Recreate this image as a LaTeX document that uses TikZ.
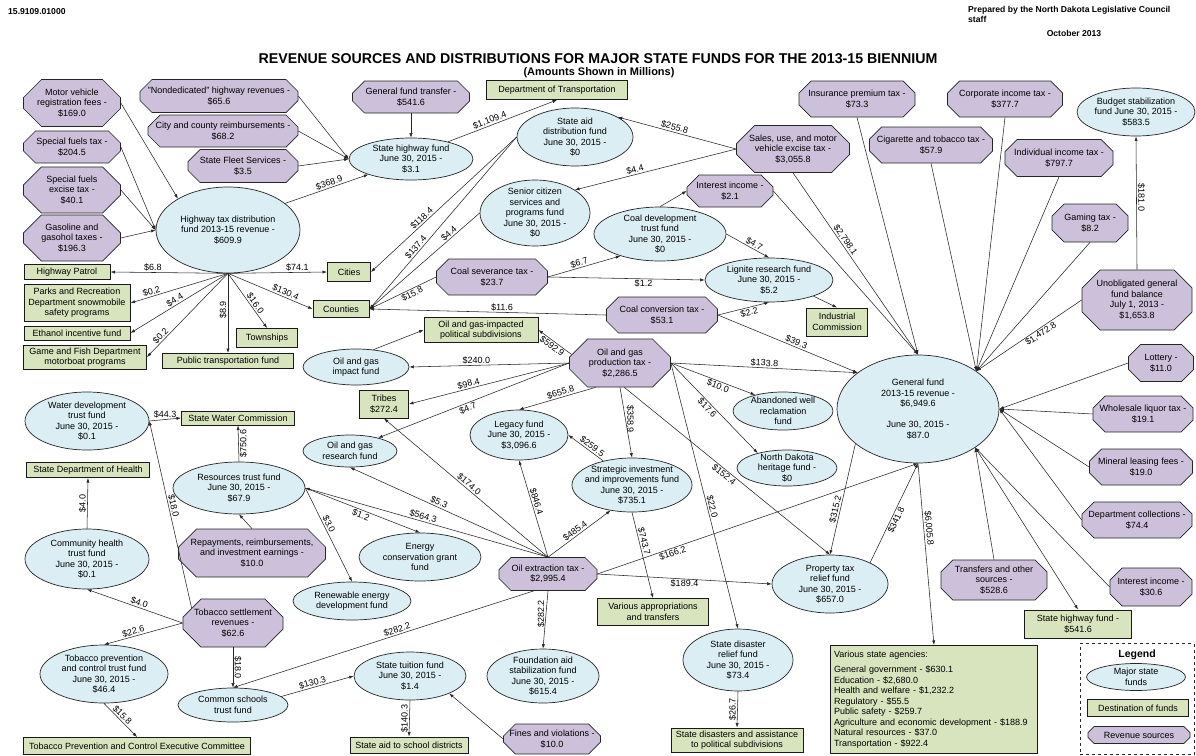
\documentclass[tikz,border=0pt]{standalone}
\usepackage{fontspec}
\setmainfont{Liberation Sans}
\usetikzlibrary{shapes.geometric,shapes.misc,arrows.meta}
\definecolor{srcP}{HTML}{CCC0DA}
\definecolor{fundB}{HTML}{DAEEF3}
\definecolor{destG}{HTML}{D7E4BD}
\definecolor{edgeC}{HTML}{262626}
\newcommand{\nf}{\fontsize{9}{10.5}\selectfont}
\begin{document}
\begin{tikzpicture}[x=1pt,y=-1pt, font=\nf,
 sz/.style 2 args={minimum width=#1pt, minimum height=#2pt},
 fund/.style={ellipse, draw=black!85, line width=0.7pt, fill=fundB, align=center, inner xsep=-6pt, inner ysep=-4pt},
 src/.style={chamfered rectangle, chamfered rectangle xsep=6pt, chamfered rectangle ysep=6pt, draw=black!85, line width=0.7pt, fill=srcP, align=center, inner sep=0pt},
 tall/.style={chamfered rectangle xsep=9pt, chamfered rectangle ysep=9pt},
 dest/.style={rectangle, draw=black!90, line width=1pt, fill=destG, align=center, inner sep=1pt},
 conn/.style={draw=edgeC, line width=0.55pt, -{Latex[length=4.5pt,width=3.2pt]}},
 lbl/.style={inner sep=1pt, font=\nf}]
\fill[white] (0,0) rectangle (1196,755);
\useasboundingbox (0,0) rectangle (1196,755);

% header
\node[anchor=west, font=\bfseries\fontsize{8.6}{10}\selectfont, inner sep=0] (hid) at (8,12) {15.9109.01000};
\node[anchor=north west, align=left, font=\bfseries\fontsize{8.6}{10}\selectfont, inner sep=0] (hprep) at (968,6) {Prepared by the North Dakota Legislative Council\\staff};
\node[font=\bfseries\fontsize{8.6}{10}\selectfont, inner sep=0] (hdate) at (1074,33) {October 2013};
\node[font=\bfseries\fontsize{14.2}{16}\selectfont, inner sep=0] (title) at (598,59) {REVENUE SOURCES AND DISTRIBUTIONS FOR MAJOR STATE FUNDS FOR THE 2013-15 BIENNIUM};
\node[font=\bfseries\fontsize{11}{12}\selectfont, inner sep=0] (sub) at (599,73) {(Amounts Shown in Millions)};

% revenue sources
\node[src, tall, sz={97}{47}] (m1) at (72,103) {Motor vehicle\\registration fees -\\\$169.0};
\node[src, sz={97}{32}] (m2) at (72,147) {Special fuels tax -\\\$204.5};
\node[src, tall, sz={97}{45}] (m3) at (72,190) {Special fuels\\excise tax -\\\$40.1};
\node[src, tall, sz={97}{44}] (m4) at (72,238) {Gasoline and\\gasohol taxes -\\\$196.3};
\node[src, sz={158}{33}] (nd) at (219,96) {"Nondedicated" highway revenues -\\\$65.6};
\node[src, sz={150}{32}] (cc) at (223,131) {City and county reimbursements -\\\$68.2};
\node[src, sz={110}{33}] (sf) at (243,166) {State Fleet Services -\\\$3.5};
\node[src, sz={117}{32}] (gft) at (411,97) {General fund transfer -\\\$541.6};
\node[src, tall, sz={113}{47}] (sut) at (793,149) {Sales, use, and motor\\vehicle excise tax -\\\$3,055.8};
\node[src, sz={116}{36}] (ipt) at (857,99) {Insurance premium tax -\\\$73.3};
\node[src, sz={86}{32}] (ii1) at (730,191) {Interest income -\\\$2.1};
\node[src, sz={123}{36}] (cig) at (931,145) {Cigarette and tobacco tax -\\\$57.9};
\node[src, sz={115}{36}] (cit) at (1005,99) {Corporate income tax -\\\$377.7};
\node[src, sz={108}{37}] (iit) at (1059,158) {Individual income tax -\\\$797.7};
\node[src, sz={76}{38}] (gam) at (1090,223) {Gaming tax -\\\$8.2};
\node[src, sz={111}{36}] (cst) at (492,277) {Coal severance tax -\\\$23.7};
\node[src, sz={111}{36}] (cct) at (662,315) {Coal conversion tax -\\\$53.1};
\node[src, tall, sz={101}{48}] (ogp) at (620,363) {Oil and gas\\production tax -\\\$2,286.5};
\node[src, tall, sz={110}{60}] (ugf) at (1137,300) {Unobligated general\\fund balance\\July 1, 2013 -\\\$1,653.8};
\node[src, sz={65}{37}] (lot) at (1161,363) {Lottery -\\\$11.0};
\node[src, sz={100}{36}] (wlt) at (1143,414) {Wholesale liquor tax -\\\$19.1};
\node[src, sz={103}{36}] (mlf) at (1141,467) {Mineral leasing fees -\\\$19.0};
\node[src, sz={110}{36}] (dco) at (1137,520) {Department collections -\\\$74.4};
\node[src, tall, sz={147}{48}] (rep) at (252,553) {Repayments, reimbursements,\\and investment earnings -\\\$10.0};
\node[src, tall, sz={100}{48}] (tsr) at (233,623) {Tobacco settlement\\revenues -\\\$62.6};
\node[src, sz={98}{33}] (oet) at (548,574) {Oil extraction tax -\\\$2,995.4};
\node[src, sz={95}{30}] (fav) at (552,739) {Fines and violations -\\\$10.0};
\node[src, sz={106}{40}] (tos) at (994,580) {Transfers and other\\sources -\\\$528.6};
\node[src, sz={82}{38}] (ii2) at (1151,587) {Interest income -\\\$30.6};

% funds
\node[fund, sz={144}{86}] (htd) at (228,230) {Highway tax distribution\\fund 2013-15 revenue -\\\$609.9};
\node[fund, sz={124}{42}] (shf) at (411,159) {State highway fund\\June 30, 2015 -\\\$3.1};
\node[fund, sz={116}{58}] (sad) at (575,137) {State aid\\distribution fund\\June 30, 2015 -\\\$0};
\node[fund, sz={110}{66}] (scs) at (535,213) {Senior citizen\\services and\\programs fund\\June 30, 2015 -\\\$0};
\node[fund, sz={132}{54}] (cdt) at (660,234) {Coal development\\trust fund\\June 30, 2015 -\\\$0};
\node[fund, sz={128}{44}] (lrf) at (769,280) {Lignite research fund\\June 30, 2015 -\\\$5.2};
\node[fund, sz={118}{48}] (bsf) at (1136,112) {Budget stabilization\\fund June 30, 2015 -\\\$583.5};
\node[fund, sz={162}{108}] (gf) at (918,409) {General fund\\2013-15 revenue -\\\$6,949.6\\[10.5pt]June 30, 2015 -\\\$87.0};
\node[fund, sz={124}{58}] (wdt) at (87,421) {Water development\\trust fund\\June 30, 2015 -\\\$0.1};
\node[fund, sz={132}{52}] (rtf) at (239,488) {Resources trust fund\\June 30, 2015 -\\\$67.9};
\node[fund, sz={106}{36}] (ogi) at (356,367) {Oil and gas\\impact fund};
\node[fund, sz={94}{32}] (ogr) at (350,451) {Oil and gas\\research fund};
\node[fund, sz={98}{50}] (leg) at (519,435) {Legacy fund\\June 30, 2015 -\\\$3,096.6};
\node[fund, sz={100}{38}] (awr) at (783,411) {Abandoned well\\reclamation\\fund};
\node[fund, sz={100}{36}] (ndh) at (787,468) {North Dakota\\heritage fund -\\\$0};
\node[fund, sz={120}{54}] (sii) at (632,485) {Strategic investment\\and improvements fund\\June 30, 2015 -\\\$735.1};
\node[fund, sz={124}{60}] (chd) at (87,559) {Community health\\trust fund\\June 30, 2015 -\\\$0.1};
\node[fund, sz={128}{58}] (tpc) at (104,674) {Tobacco prevention\\and control trust fund\\June 30, 2015 -\\\$46.4};
\node[fund, sz={110}{34}] (cs2) at (233,705) {Common schools\\trust fund};
\node[fund, sz={122}{48}] (ecg) at (420,557) {Energy\\conservation grant\\fund};
\node[fund, sz={118}{38}] (ren) at (352,601) {Renewable energy\\development fund};
\node[fund, sz={112}{54}] (fas) at (543,676) {Foundation aid\\stabilization fund\\June 30, 2015 -\\\$615.4};
\node[fund, sz={112}{48}] (stf) at (410,676) {State tuition fund\\June 30, 2015 -\\\$1.4};
\node[fund, sz={116}{58}] (ptr) at (830,584) {Property tax\\relief fund\\June 30, 2015 -\\\$657.0};
\node[fund, sz={110}{62}] (sdr) at (738,660) {State disaster\\relief fund\\June 30, 2015 -\\\$73.4};

% destinations
\node[dest, sz={141}{19}] (dtr) at (557,90) {Department of Transportation};
\node[dest, sz={86}{15}] (hp) at (67,272) {Highway Patrol};
\node[dest, sz={106}{37}] (prd) at (77,303) {Parks and Recreation\\Department snowmobile\\safety programs};
\node[dest, sz={106}{14}] (eif) at (77,333) {Ethanol incentive fund};
\node[dest, sz={123}{24}] (gfd) at (85,357) {Game and Fish Department\\motorboat programs};
\node[dest, sz={131}{15}] (ptf) at (228,361) {Public transportation fund};
\node[dest, sz={61}{19}] (twp) at (267,338) {Townships};
\node[dest, sz={43}{19}] (cities) at (349,272) {Cities};
\node[dest, sz={56}{17}] (cou) at (341,309) {Counties};
\node[dest, sz={114}{25}] (ogps) at (481,330) {Oil and gas-impacted\\political subdivisions};
\node[dest, sz={49}{28}] (tri) at (384,404) {Tribes\\\$272.4};
\node[dest, sz={61}{28}] (ic) at (837,322) {Industrial\\Commission};
\node[dest, sz={113}{14}] (swc) at (238,418) {State Water Commission};
\node[dest, sz={123}{15}] (sdh) at (88,470) {State Department of Health};
\node[dest, sz={227}{17}] (tpce) at (137,746) {Tobacco Prevention and Control Executive Committee};
\node[dest, sz={118}{16}] (sasd) at (409,745) {State aid to school districts};
\node[dest, sz={111}{27}] (vat) at (653,612) {Various appropriations\\and transfers};
\node[dest, sz={132}{24}] (sda) at (737,740) {State disasters and assistance\\to political subdivisions};
\node[dest, sz={107}{28}] (shf2) at (1078,624) {State highway fund -\\\$541.6};
\node[dest, sz={207}{108}, anchor=north west, align=left, text width=200pt] (vsa) at (830,645) {Various state agencies:\\[5pt]General government - \$630.1\\Education - \$2,680.0\\Health and welfare - \$1,232.2\\Regulatory - \$55.5\\Public safety - \$259.7\\Agriculture and economic development - \$188.9\\Natural resources - \$37.0\\Transportation - \$922.4};

% legend
\node[draw=black!85, dashed, line width=0.9pt, sz={114}{111}] (legbox) at (1137,699) {};
\node[font=\bfseries\fontsize{10.5}{12}\selectfont, inner sep=0] (legt) at (1137,655) {Legend};
\node[fund, sz={99}{27}] (lgf) at (1136,677) {Major state\\funds};
\node[dest, sz={101}{17}] (lgd) at (1138,708) {Destination of funds};
\node[src, sz={102}{17}, chamfered rectangle xsep=4pt, chamfered rectangle ysep=3pt] (lgs) at (1139,735) {Revenue sources};

% ---- connectors: highway
\draw[conn] (m1.east) -- (htd.148);
\draw[conn] (m2.east) -- (htd.west);
\draw[conn] (m3.east) -- (htd.west);
\draw[conn] (m4.east) -- (htd.west);
\draw[conn] (nd.east) -- (shf.west);
\draw[conn] (cc.east) -- (shf.west);
\draw[conn] (sf.east) -- (shf.west);
\draw[conn] (gft.south) -- (shf.north);
\draw[conn] (htd.25) -- node[lbl,sloped,above,pos=0.55]{\$368.9} (shf.200);
\draw[conn] (shf.25) -- node[lbl,sloped,above,pos=0.4]{\$1,109.4} (dtr.south);
\draw[conn] (htd.south) -- node[lbl,above,pos=0.64]{\$6.8} (hp.east);
\draw[conn] (htd.south) -- node[lbl,above,pos=0.7]{\$74.1} (cities.west);
\draw[conn] (htd.south) -- node[lbl,sloped,above,pos=0.77]{\$0.2} (prd.east);
\draw[conn] (htd.south) -- node[lbl,sloped,above,pos=0.52]{\$4.4} (eif.east);
\draw[conn] (htd.south) -- node[lbl,sloped,above,pos=0.79]{\$0.2} (gfd.east);
\draw[conn] (htd.south) -- node[lbl,pos=0.46,rotate=90,anchor=south]{\$8.9} (ptf.north);
\draw[conn] (htd.south) -- node[lbl,sloped,above,pos=0.6]{\$16.0} (twp.north);
\draw[conn] (htd.south) -- node[lbl,sloped,above,pos=0.66]{\$130.4} (cou.west);

% cities / counties / coal
\draw[conn] (sad.west) -- node[lbl,sloped,above,pos=0.63]{\$118.4} (cities.east);
\draw[conn] (sad.west) -- node[lbl,sloped,above,pos=0.66]{\$137.4} (cou.east);
\draw[conn] (scs.west) -- node[lbl,sloped,above,pos=0.25]{\$4.4} (cou.east);
\draw[conn] (cst.west) -- node[lbl,sloped,below,pos=0.39]{\$15.8} (cou.east);
\draw[conn] (cct.west) -- node[lbl,sloped,above,pos=0.44]{\$11.6} (cou.east);
\draw[conn] (cst.east) -- node[lbl,sloped,above,pos=0.45]{\$6.7} (cdt.209);
\draw[conn] (cst.east) -- node[lbl,below,pos=0.61]{\$1.2} (lrf.west);
\draw[conn] (cdt.east) -- node[lbl,sloped,above,pos=0.6]{\$4.7} (lrf.north);
\draw[conn] (cdt.north) -- (ii1.west);
\draw[conn] (ii1.east) -- (gf.north);
\draw[conn] (lrf.-20) -- (ic.north);
\draw[conn] (cct.east) -- node[lbl,sloped,below,pos=0.59]{\$2.2} (lrf.south);
\draw[conn] (cct.east) -- node[lbl,sloped,above,pos=0.55]{\$39.3} (gf.149);

% sales tax
\draw[conn] (sut.west) -- node[lbl,sloped,above,pos=0.53]{\$255.8} (sad.25);
\draw[conn] (sut.west) -- node[lbl,sloped,above,pos=0.62]{\$4.4} (scs.30);

% oil and gas production tax
\draw[conn] (ogp.170) -- node[lbl,sloped,below,pos=0.5]{\$592.9} (ogps.east);
\draw[conn] (ogp.west) -- node[lbl,above,pos=0.58]{\$240.0} (ogi.east);
\draw[conn] (ogp.west) -- node[lbl,sloped,above,pos=0.62]{\$98.4} (tri.east);
\draw[conn] (ogp.west) -- node[lbl,sloped,below,pos=0.54]{\$4.7} (ogr.25);
\draw[conn] (ogp.225) -- node[lbl,sloped,above,pos=0.44]{\$655.8} (leg.north);
\draw[conn] (ogp.south) -- node[lbl,pos=0.45,rotate=-90,anchor=south]{\$358.9} (sii.north);
\draw[conn] (ogp.east) -- node[lbl,sloped,below,pos=0.58]{\$10.0} (awr.150);
\draw[conn] (ogp.east) -- node[lbl,sloped,below,pos=0.46]{\$17.6} (ndh.153);
\draw[conn] (ogp.east) -- node[lbl,sloped,above,pos=0.5]{\$133.8} (gf.149);
\draw[conn] (ogp.-80) -- node[lbl,sloped,below,pos=0.5]{\$152.4} (ptr.north);
\draw[conn] (ogp.east) -- node[lbl,sloped,above,pos=0.545]{\$22.0} (sdr.north);
\draw[conn] (ogi.45) -- (ogps.west);

% strategic
\draw[conn] (sii.140) -- node[lbl,sloped,above,pos=0.4]{\$259.5} (leg.east);
\draw[conn] (sii.south) -- node[lbl,sloped,above,pos=0.35]{\$743.7} (vat.north);

% oil extraction tax
\draw[conn] (oet.north) -- node[lbl,sloped,above,pos=0.56]{\$846.4} (leg.south);
\draw[conn] (oet.north) -- node[lbl,sloped,above,pos=0.5]{\$174.0} (tri.south);
\draw[conn] (oet.north) -- node[lbl,sloped,above,pos=0.56]{\$5.3} (ogr.south);
\draw[conn] (oet.north) -- node[lbl,sloped,above,pos=0.52]{\$564.3} (rtf.east);
\draw[conn] (oet.north) -- node[lbl,sloped,above,pos=0.48]{\$485.4} (sii.230);
\draw[conn] (oet.south) -- node[lbl,pos=0.4,rotate=90,anchor=south]{\$282.2} (fas.north);
\draw[conn] (oet.230) -- node[lbl,sloped,above,pos=0.45]{\$282.2} (cs2.north);
\draw[conn] (oet.east) -- node[lbl,below,pos=0.5]{\$189.4} (ptr.west);
\draw[conn] (oet.east) -- node[lbl,sloped,below,pos=0.23]{\$166.2} (gf.south);

% general fund
\draw[conn] (gf.209) -- node[lbl,sloped,above,pos=0.6]{\$315.2} (ptr.north);
\draw[conn] (ptr.28) -- node[lbl,sloped,below,pos=0.45]{\$341.8} (gf.south);
\draw[conn] (gf.south) -- node[lbl,sloped,above,pos=0.36]{\$6,005.8} (vsa.north);
\draw[conn] (sut.south) -- node[lbl,sloped,above,pos=0.385]{\$2,798.1} (gf.north);
\draw[conn] (ipt.south) -- (gf.north);
\draw[conn] (cig.south) -- (gf.33);
\draw[conn] (cit.south) -- (gf.33);
\draw[conn] (iit.south) -- (gf.33);
\draw[conn] (gam.south) -- (gf.33);
\draw[conn] (ugf.west) -- node[lbl,sloped,below,pos=0.415]{\$1,472.8} (gf.33);
\draw[conn] (ugf.north) -- node[lbl,pos=0.54,rotate=-90,anchor=south]{\$181.0} (bsf.south);
\draw[conn] (lot.west) -- (gf.east);
\draw[conn] (wlt.west) -- (gf.east);
\draw[conn] (mlf.west) -- (gf.east);
\draw[conn] (dco.west) -- (gf.east);
\draw[conn] (tos.north) -- (gf.-34);
\draw[conn] (gf.-34) -- (shf2.north);
\draw[conn] (ii2.west) -- (gf.-34);

% water, resources, tobacco, schools
\draw[conn] (wdt.east) -- node[lbl,above,pos=0.5]{\$44.3} (swc.west);
\draw[conn] (tsr.160) -- node[lbl,sloped,above,pos=0.54]{\$18.0} (wdt.east);
\draw[conn] (rtf.north) -- node[lbl,pos=0.5,rotate=90,anchor=north]{\$750.6} (swc.south);
\draw[conn] (rtf.east) -- node[lbl,sloped,below,pos=0.5]{\$1.2} (ecg.north);
\draw[conn] (rtf.east) -- node[lbl,sloped,above,pos=0.41]{\$3.0} (ren.north);
\draw[conn] (rep.north) -- (rtf.south);
\draw[conn] (chd.north) -- node[lbl,pos=0.5,rotate=90,anchor=south]{\$4.0} (sdh.south);
\draw[conn] (tsr.west) -- node[lbl,sloped,above,pos=0.47]{\$4.0} (chd.south);
\draw[conn] (tsr.west) -- node[lbl,sloped,above,pos=0.61]{\$22.6} (tpc.north);
\draw[conn] (tsr.south) -- node[lbl,pos=0.5,rotate=-90,anchor=south]{\$18.0} (cs2.north);
\draw[conn] (tpc.south) -- node[lbl,sloped,above,pos=0.45]{\$15.8} (tpce.north);
\draw[conn] (cs2.10) -- node[lbl,sloped,above,pos=0.45]{\$130.3} (stf.west);
\draw[conn] (stf.south) -- node[lbl,pos=0.5,rotate=90,anchor=south]{\$140.3} (sasd.north);
\draw[conn] (fav.west) -- (stf.-24);
\draw[conn] (sdr.south) -- node[lbl,pos=0.5,rotate=90,anchor=south]{\$26.7} (sda.north);
\end{tikzpicture}
\end{document}
